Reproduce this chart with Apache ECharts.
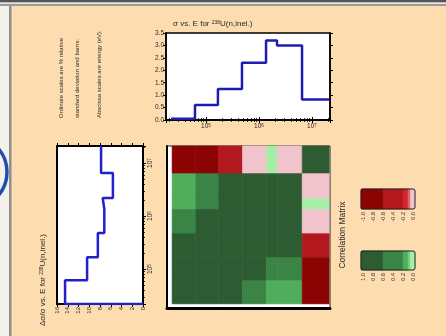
<!DOCTYPE html>
<html><head><meta charset="utf-8">
<script src="https://cdn.jsdelivr.net/npm/echarts@6/dist/echarts.min.js"></script>
<style>html,body{margin:0;padding:0;background:#fff}#c{width:446px;height:336px}</style>
</head><body><div id="c"></div>
<script>
// Energy group boundaries (eV), lowest -> highest
const energyBounds = [2.2e4, 6.2e4, 1.68e5, 4.78e5, 1.36e6, 2.19e6, 6.5e6, 2.1e7];
// Cross section (barns) per group
const sigmaValues = [0.05, 0.6, 1.25, 2.3, 3.2, 3.0, 0.82];
// Relative standard deviation (%) per group
const relStdDev = [14.5, 10.4, 8.4, 7.2, 7.5, 5.6, 7.8];
// Correlation matrix, row i / column j, group 0 = lowest energy
const corrRow0 = [1.0, 0.9, 0.9, 0.4, 0.15, 0.15, -0.9];
const corrRow1 = [0.9, 1.0, 0.9, 0.9, 0.4, 0.4, -0.9];
const corrRow2 = [0.9, 0.9, 1.0, 0.9, 0.9, 0.9, -0.4];
const corrRow3 = [0.4, 0.9, 0.9, 1.0, 0.9, 0.9, -0.02];
const corrRow4 = [0.15, 0.4, 0.9, 0.9, 1.0, 0.9, 0.02];
const corrRow5 = [0.15, 0.4, 0.9, 0.9, 0.9, 1.0, -0.02];
const corrRow6 = [-0.9, -0.9, -0.4, -0.02, 0.02, -0.02, 1.0];
const corrRows = [corrRow0, corrRow1, corrRow2, corrRow3, corrRow4, corrRow5, corrRow6];
// Colour-scale legend piece boundaries
const negLegendBounds = [-1.04, -0.6, -0.2, -0.1, -0.05, 0.04];
const posLegendBounds = [1.04, 0.6, 0.2, 0.1, 0.05, -0.04];

const FONT = 'Liberation Sans, Arial, sans-serif';
const TXT = '#2a2a2a';
const supRich = { s: { fontSize: 4.5, verticalAlign: 'top', fontFamily: FONT, color: TXT, lineHeight: 6 } };
const logFmt = v => {
  const e = Math.log10(v);
  if (Math.abs(e - Math.round(e)) > 1e-6) return '';
  return '10{s|' + Math.round(e) + '}';
};

// build data
const topLine = sigmaValues.map((v, i) => [energyBounds[i], v]);
topLine.push([energyBounds[energyBounds.length - 1], sigmaValues[sigmaValues.length - 1]]);

const leftLine = [[0, energyBounds[0]]];
relStdDev.forEach((v, i) => { leftLine.push([v, energyBounds[i]]); leftLine.push([v, energyBounds[i + 1]]); });

const cells = [];
corrRows.forEach((row, i) => row.forEach((r, j) => {
  cells.push([energyBounds[j], energyBounds[j + 1], energyBounds[i], energyBounds[i + 1], r]);
}));
const legendItems = b => b.slice(0, -1).map((lo, k) => [lo, b[k + 1], 0, 1, (lo + b[k + 1]) / 2]);

function rectItem(params, api) {
  const a = api.coord([api.value(0), api.value(3)]);
  const b = api.coord([api.value(1), api.value(2)]);
  const c = api.visual('color');
  return { type: 'rect', shape: { x: Math.min(a[0], b[0]), y: Math.min(a[1], b[1]), width: Math.abs(b[0] - a[0]), height: Math.abs(b[1] - a[1]) },
    style: { fill: c, stroke: c, lineWidth: 0.6 } };
}
function frameItem(params, api) {
  const a = api.coord([api.value(0), api.value(3)]);
  const b = api.coord([api.value(1), api.value(2)]);
  return { type: 'rect', shape: { x: Math.min(a[0], b[0]), y: Math.min(a[1], b[1]), width: Math.abs(b[0] - a[0]), height: Math.abs(b[1] - a[1]), r: 2 },
    style: { fill: null, stroke: '#222', lineWidth: 1 } };
}

const lbl = (extra) => Object.assign({ fontSize: 6.5, color: TXT, fontFamily: FONT }, extra || {});
const blackLine = w => ({ show: true, lineStyle: { color: '#000', width: w } });
const tick = (len, inside) => ({ show: true, length: len, inside: !!inside, lineStyle: { color: '#000', width: 1 } });
const minor = { show: true, splitNumber: 9, length: 2, lineStyle: { color: '#000', width: 0.8 } };
const noSplit = { show: false };

const xMin = 1.76e4, xMax = 2.19e7;

const option = {
  backgroundColor: '#fddcb0',
  animation: false,
  textStyle: { fontFamily: FONT },
  title: {
    text: 'σ vs. E for {s|238}U(n,inel.)', left: 168, top: 15,
    textStyle: { fontSize: 8, fontWeight: 'normal', color: TXT, fontFamily: FONT, rich: { s: { fontSize: 5, verticalAlign: 'top', color: TXT, fontFamily: FONT } } }
  },
  grid: [
    { left: 166, top: 33, width: 164, height: 87, show: true, backgroundColor: '#fff', borderColor: '#000', borderWidth: 1.5 },
    { left: 57, top: 146, width: 86, height: 158, show: true, backgroundColor: '#fff', borderColor: '#000', borderWidth: 2 },
    { left: 167, top: 146, width: 163, height: 162, show: true, backgroundColor: '#fff', borderColor: '#222', borderWidth: 1 },
    { left: 363, top: 189, width: 50, height: 20 },
    { left: 363, top: 251, width: 50, height: 19 }
  ],
  xAxis: [
    { gridIndex: 0, type: 'log', min: xMin, max: xMax, position: 'bottom', axisLine: blackLine(1.5), axisTick: tick(3), minorTick: minor, splitLine: noSplit,
      axisLabel: lbl({ formatter: logFmt, rich: supRich, margin: 3, showMinLabel: false, showMaxLabel: false }) },
    { gridIndex: 0, type: 'log', min: xMin, max: xMax, position: 'top', axisLine: blackLine(1.5), axisTick: tick(3), minorTick: minor, splitLine: noSplit, axisLabel: { show: false } },
    { gridIndex: 1, type: 'value', min: 0, max: 16, interval: 2, inverse: true, position: 'bottom', axisLine: blackLine(2), axisTick: tick(3), splitLine: noSplit,
      axisLabel: lbl({ rotate: 90, margin: 3, fontSize: 6 }) },
    { gridIndex: 1, type: 'value', min: 0, max: 16, interval: 2, inverse: true, position: 'top', axisLine: blackLine(2), axisTick: tick(3), splitLine: noSplit, axisLabel: { show: false } },
    { gridIndex: 2, type: 'log', min: xMin, max: xMax, position: 'bottom', axisLine: blackLine(3), axisTick: { show: false }, splitLine: noSplit, axisLabel: { show: false } },
    { gridIndex: 3, type: 'value', min: -1, max: 0, interval: 0.2, axisLine: { show: false }, axisTick: { show: false }, splitLine: noSplit,
      axisLabel: lbl({ rotate: 90, fontSize: 5.5, margin: 3, formatter: v => v.toFixed(1) }) },
    { gridIndex: 4, type: 'value', min: 0, max: 1, interval: 0.2, inverse: true, axisLine: { show: false }, axisTick: { show: false }, splitLine: noSplit,
      axisLabel: lbl({ rotate: 90, fontSize: 5.5, margin: 3, formatter: v => v.toFixed(1) }) }
  ],
  yAxis: [
    { gridIndex: 0, type: 'value', min: 0, max: 3.5, interval: 0.5, position: 'left', axisLine: blackLine(1.5), axisTick: tick(3), splitLine: noSplit,
      axisLabel: lbl({ margin: 2, formatter: v => v.toFixed(1) }) },
    { gridIndex: 0, type: 'value', min: 0, max: 3.5, interval: 0.5, position: 'right', axisLine: blackLine(1.5), axisTick: tick(3), splitLine: noSplit, axisLabel: { show: false } },
    { gridIndex: 1, type: 'log', min: energyBounds[0], max: energyBounds[energyBounds.length - 1], position: 'right', axisLine: blackLine(2), axisTick: tick(3), minorTick: minor, splitLine: noSplit,
      axisLabel: lbl({ rotate: 90, margin: 4, formatter: logFmt, rich: supRich, showMinLabel: false, showMaxLabel: false }) },
    { gridIndex: 2, type: 'log', min: 1.84e4, max: energyBounds[energyBounds.length - 1], position: 'left', axisLine: blackLine(2), axisTick: { show: false }, splitLine: noSplit, axisLabel: { show: false } },
    { gridIndex: 3, type: 'value', min: 0, max: 1, show: false },
    { gridIndex: 4, type: 'value', min: 0, max: 1, show: false }
  ],
  visualMap: {
    type: 'piecewise', show: false, dimension: 4, seriesIndex: [2, 3, 4],
    pieces: [
      { gte: 0.6, color: '#2d5c33' },
      { gte: 0.2, lt: 0.6, color: '#3a8545' },
      { gte: 0.1, lt: 0.2, color: '#4fad5b' },
      { gte: 0.05, lt: 0.1, color: '#70d27c' },
      { gte: 0, lt: 0.05, color: '#a6eea6' },
      { gt: -0.05, lt: 0, color: '#f1c3cd' },
      { gt: -0.1, lte: -0.05, color: '#e2636a' },
      { gt: -0.2, lte: -0.1, color: '#cf262d' },
      { gt: -0.6, lte: -0.2, color: '#b3181f' },
      { lte: -0.6, color: '#8c0303' }
    ]
  },
  series: [
    { type: 'line', xAxisIndex: 0, yAxisIndex: 0, step: 'end', data: topLine, symbol: 'none', lineStyle: { color: '#1c1cb0', width: 2.5 } },
    { type: 'line', xAxisIndex: 2, yAxisIndex: 2, data: leftLine, symbol: 'none', lineStyle: { color: '#2020cc', width: 2.5 } },
    { type: 'custom', xAxisIndex: 4, yAxisIndex: 3, data: cells, renderItem: rectItem, encode: { x: [0, 1], y: [2, 3] } },
    { type: 'custom', xAxisIndex: 5, yAxisIndex: 4, data: legendItems(negLegendBounds), renderItem: rectItem, encode: { x: [0, 1], y: [2, 3] } },
    { type: 'custom', xAxisIndex: 6, yAxisIndex: 5, data: legendItems(posLegendBounds), renderItem: rectItem, encode: { x: [0, 1], y: [2, 3] } },
    { type: 'custom', xAxisIndex: 5, yAxisIndex: 4, data: [[negLegendBounds[0], negLegendBounds[negLegendBounds.length - 1], 0, 1]], renderItem: frameItem, z: 5 },
    { type: 'custom', xAxisIndex: 6, yAxisIndex: 5, data: [[posLegendBounds[0], posLegendBounds[posLegendBounds.length - 1], 0, 1]], renderItem: frameItem, z: 5 }
  ],
  graphic: [
    { type: 'rect', shape: { x: 0, y: 0, width: 446, height: 2.5 }, style: { fill: '#555' } },
    { type: 'rect', shape: { x: 0, y: 2.5, width: 446, height: 1.5 }, style: { fill: '#e4e4e4' } },
    { type: 'rect', shape: { x: 0, y: 4, width: 446, height: 2 }, style: { fill: '#9a9a9a' } },
    { type: 'rect', shape: { x: 0, y: 6, width: 9, height: 330 }, style: { fill: '#f4f1ed' } },
    { type: 'rect', shape: { x: 9, y: 6, width: 2.5, height: 330 }, style: { fill: '#8e8e8e' } },
    { type: 'arc', shape: { cx: -29.5, cy: 172, r: 36.5, startAngle: -0.7, endAngle: 0.7 }, style: { stroke: '#1f4fae', lineWidth: 3.5, fill: null } },
    { type: 'text', x: 61, y: 118, rotation: Math.PI / 2, style: { text: 'Ordinate scales are % relative', font: '6px ' + FONT, fill: TXT, align: 'left', verticalAlign: 'middle' } },
    { type: 'text', x: 77, y: 118, rotation: Math.PI / 2, style: { text: 'standard deviation and barns.', font: '6px ' + FONT, fill: TXT, align: 'left', verticalAlign: 'middle' } },
    { type: 'text', x: 99, y: 118, rotation: Math.PI / 2, style: { text: 'Abscissa scales are energy (eV).', font: '6px ' + FONT, fill: TXT, align: 'left', verticalAlign: 'middle' } },
    { type: 'text', x: 43, y: 326, rotation: Math.PI / 2,
      style: { text: 'Δσ/σ vs. E for {s|238}U(n,inel.)', fontSize: 8, fontFamily: FONT, fill: TXT, align: 'left', verticalAlign: 'middle',
        rich: { s: { fontSize: 5, verticalAlign: 'top', fill: TXT, fontFamily: FONT } } } },
    { type: 'text', x: 343, y: 235, rotation: Math.PI / 2, style: { text: 'Correlation Matrix', font: '8.5px ' + FONT, fill: TXT, align: 'center', verticalAlign: 'middle' } }
  ]
};
echarts.init(document.getElementById('c'), null, { renderer: 'canvas' }).setOption(option);
</script></body></html>
